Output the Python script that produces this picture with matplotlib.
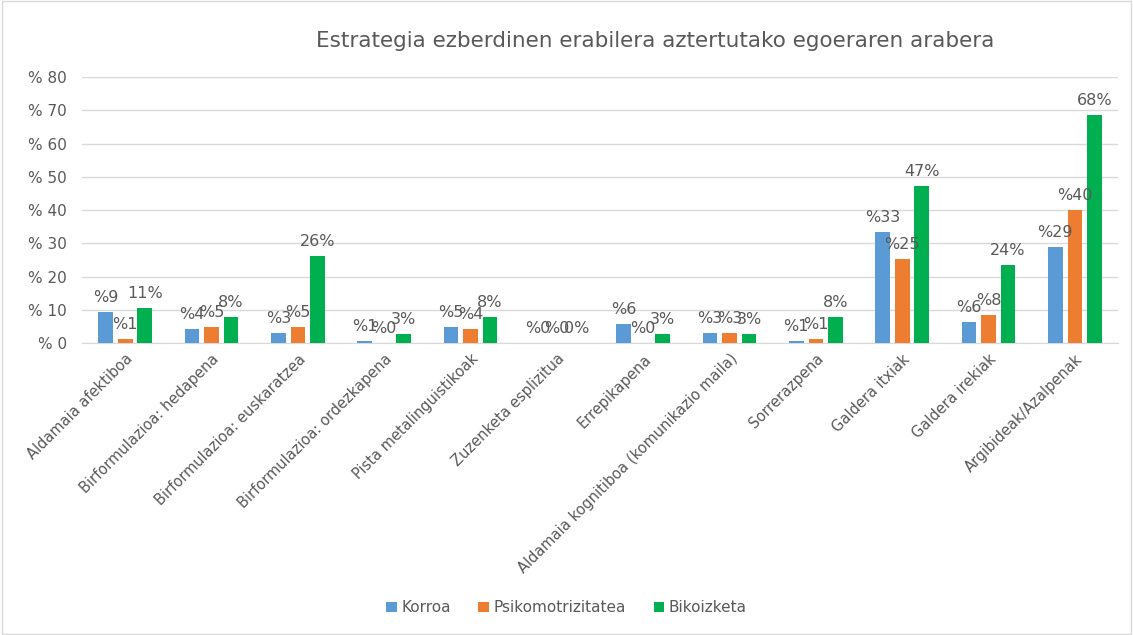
import matplotlib.pyplot as plt
import numpy as np
from matplotlib.patches import Rectangle

categories = ['Aldamaia afektiboa', 'Birformulazioa: hedapena', 'Birformulazioa: euskaratzea',
              'Birformulazioa: ordezkapena', 'Pista metalinguistikoak', 'Zuzenketa esplizitua',
              'Errepikapena', 'Aldamaia kognitiboa (komunikazio maila)', 'Sorrerazpena',
              'Galdera itxiak', 'Galdera irekiak', 'Argibideak/Azalpenak']
korroa = [9.3, 4.3, 2.9, 0.6, 4.9, 0.0, 5.8, 2.9, 0.6, 33.3, 6.3, 28.8]
psiko = [1.3, 4.8, 4.8, 0.0, 4.2, 0.0, 0.0, 2.9, 1.3, 25.2, 8.3, 40.0]
bikoiz = [10.6, 7.9, 26.3, 2.6, 7.9, 0.0, 2.6, 2.6, 7.9, 47.3, 23.5, 68.5]
series = ['Korroa', 'Psikomotrizitatea', 'Bikoizketa']
colors = ['#5B9BD5', '#ED7D31', '#00B050']

fig = plt.figure(figsize=(11.33, 6.35), dpi=100)
ax = fig.add_axes([0.0724, 0.4598, 0.9144, 0.4189])

x = np.arange(len(categories))
step = 0.226
width = 0.17
for i, (name, vals, col) in enumerate(zip(series, [korroa, psiko, bikoiz], colors)):
    pos = x + (i - 1) * step
    ax.bar(pos, vals, width, color=col, label=name, zorder=3)
    for p, v in zip(pos, vals):
        if i < 2:
            txt = '%' + str(int(round(v)))
        else:
            txt = str(int(round(v))) + '%'
        ax.annotate(txt, (p, v), xytext=(0, 5), textcoords='offset points',
                    ha='center', va='bottom', fontsize=11.5, color='#595959', zorder=4)

ax.set_xlim(-0.5, len(categories) - 0.5)
ax.set_ylim(0, 80)
ax.set_yticks(range(0, 81, 10))
ax.set_yticklabels(['% ' + str(t) for t in range(0, 81, 10)])
ax.yaxis.grid(True, color='#D9D9D9', linewidth=1, zorder=0)
ax.set_xticks(x)
ax.set_xticklabels(categories, rotation=45, ha='right', rotation_mode='anchor')
ax.tick_params(axis='both', length=0, colors='#595959', labelsize=10.5)
ax.tick_params(axis='y', pad=11, labelsize=11)
ax.tick_params(axis='x', pad=6)
for s in ax.spines.values():
    s.set_visible(False)
ax.spines['bottom'].set_visible(True)
ax.spines['bottom'].set_color('#D9D9D9')

fig.text(0.578, 0.935, 'Estrategia ezberdinen erabilera aztertutako egoeraren arabera',
         ha='center', va='center', fontsize=15.5, color='#595959')

ax.legend(loc='center', bbox_to_anchor=(0.5, 0.043), bbox_transform=fig.transFigure,
          ncol=3, frameon=False, fontsize=11, handlelength=0.7, handleheight=0.7,
          handletextpad=0.3, columnspacing=1.8, labelcolor='#595959')

fig.patches.append(Rectangle((0.002, 0.002), 0.996, 0.996, transform=fig.transFigure,
                             fill=False, edgecolor='#D9D9D9', linewidth=1))

plt.savefig('out.png')
